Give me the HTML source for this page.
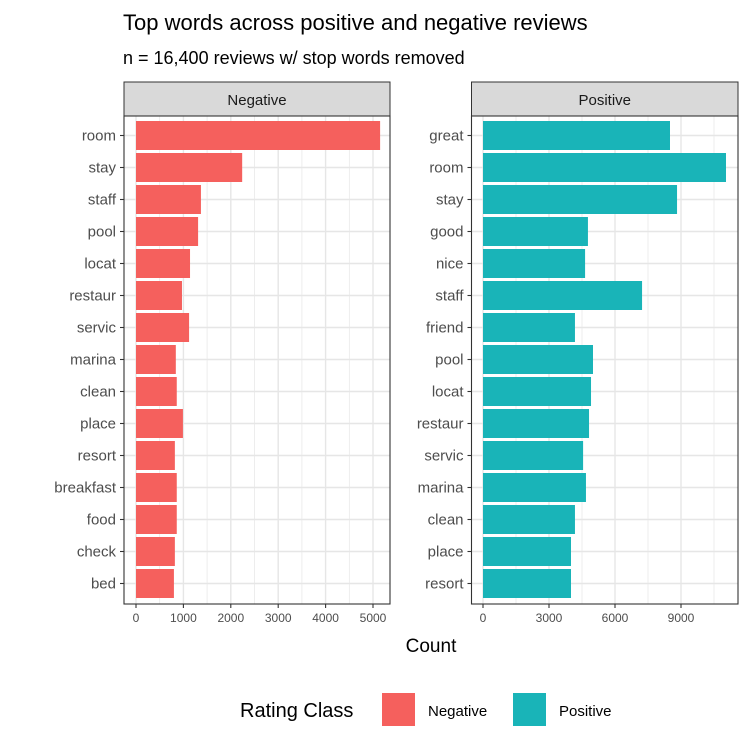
<!DOCTYPE html>
<html><head><meta charset="utf-8"><style>
body{margin:0;background:#fff}
svg text{font-family:"Liberation Sans",Arial,sans-serif}
</style></head><body>
<svg id="c" width="750" height="750" xmlns="http://www.w3.org/2000/svg">
<text x="123" y="30" font-size="22" fill="#000">Top words across positive and negative reviews</text>
<text x="123" y="64" font-size="18" fill="#000">n = 16,400 reviews w/ stop words removed</text>
<g id="panels"></g>
<text x="431" y="652" font-size="19" text-anchor="middle" fill="#000">Count</text>
<g>
<text x="240" y="717" font-size="20" fill="#000">Rating Class</text>
<rect x="382" y="693" width="33" height="33" fill="#f5605d"/>
<text x="428" y="716" font-size="15" fill="#000">Negative</text>
<rect x="513" y="693" width="33" height="33" fill="#19b4b8"/>
<text x="559" y="716" font-size="15" fill="#000">Positive</text>
</g>
</svg>
<script>
const negWords=["room","stay","staff","pool","locat","restaur","servic","marina","clean","place","resort","breakfast","food","check","bed"];
const negValues=[5150,2240,1370,1310,1140,970,1120,840,860,990,820,860,860,820,800];
const negTicks=[0,1000,2000,3000,4000,5000];
const posWords=["great","room","stay","good","nice","staff","friend","pool","locat","restaur","servic","marina","clean","place","resort"];
const posValues=[8500,11045,8820,4770,4640,7230,4180,5000,4910,4820,4550,4680,4180,4000,4000];
const posTicks=[0,3000,6000,9000];

const NS="http://www.w3.org/2000/svg";
const pg=document.getElementById('panels');
function mk(t,a,p){const e=document.createElementNS(NS,t);for(const k in a)e.setAttribute(k,a[k]);(p||pg).appendChild(e);return e;}
const panelTop=116,panelBottom=604,rowTop=121,pitch=32,barH=29;
function panel(name,left,right,x0,pxPer,words,values,ticks,color,minorStep){
  const grp=mk('g',{});
  
  
  const xs=v=>x0+v*pxPer;
  const s=mk('rect',{x:left,y:82,width:right-left,height:panelTop-82,fill:'#d9d9d9',stroke:'#333','stroke-width':1},grp);
  
  
  const st=mk('text',{x:(left+right)/2,y:105,'font-size':15,'text-anchor':'middle',fill:'#1a1a1a'},grp);
  st.textContent=name;
  
  
  const minV=(left-x0)/pxPer,maxV=(right-x0)/pxPer;
  for(let v=Math.ceil(minV/minorStep)*minorStep;v<=maxV;v+=minorStep){
    const major=Math.abs(v%(minorStep*2))<1e-6;
    const l=mk('line',{x1:xs(v),x2:xs(v),y1:panelTop,y2:panelBottom,stroke:'#e6e6e6','stroke-width':major?1.4:0.7},grp);
    
    
  }
  words.forEach((w,i)=>{
    const cy=rowTop+i*pitch+barH/2;
    const l=mk('line',{x1:left,x2:right,y1:cy,y2:cy,stroke:'#e6e6e6','stroke-width':1.4},grp);
    
    
  });
  words.forEach((w,i)=>{
    const y=rowTop+i*pitch;
    const r=mk('rect',{x:xs(0),y:y,width:xs(values[i])-xs(0),height:barH,fill:color},grp);
    
    
    const cy=y+barH/2;
    mk('line',{x1:left-4,x2:left,y1:cy,y2:cy,stroke:'#333','stroke-width':1.1},grp);
    const t=mk('text',{x:left-8,y:cy+5,'font-size':15,'text-anchor':'end',fill:'#4d4d4d'},grp);
    t.textContent=w;
    
    
  });
  ticks.forEach(v=>{
    mk('line',{x1:xs(v),x2:xs(v),y1:panelBottom,y2:panelBottom+4,stroke:'#333','stroke-width':1.1},grp);
    const t=mk('text',{x:xs(v),y:panelBottom+18,'font-size':12,'text-anchor':'middle',fill:'#4d4d4d'},grp);
    t.textContent=v;
    
    
  });
  const b=mk('rect',{x:left,y:panelTop,width:right-left,height:panelBottom-panelTop,fill:'none',stroke:'#333','stroke-width':1.1},grp);
  
  
}
panel('Negative',124,390,136,0.0474,negWords,negValues,negTicks,'#f5605d',500);
panel('Positive',471.5,738,483,0.022,posWords,posValues,posTicks,'#19b4b8',1500);
</script>
</body></html>
